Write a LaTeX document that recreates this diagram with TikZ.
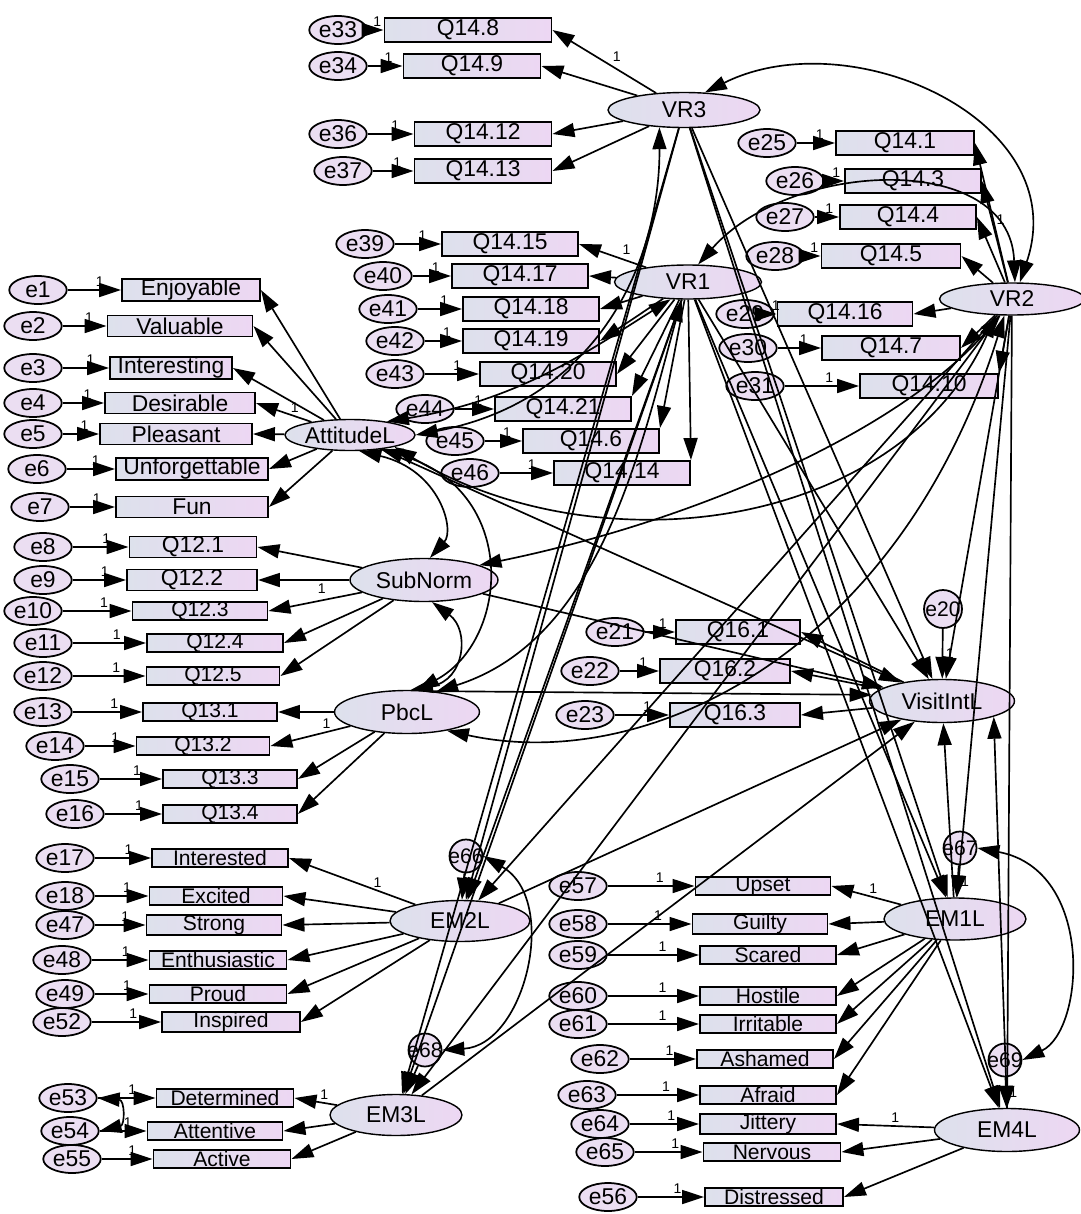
\documentclass[tikz,border=0pt]{standalone}
\usepackage{fontspec}
\setmainfont{Liberation Sans}
\usetikzlibrary{arrows.meta,shapes.geometric}

\definecolor{boxL}{RGB}{221,225,236}
\definecolor{boxR}{RGB}{237,215,243}
\definecolor{errfill}{RGB}{235,222,242}

\tikzset{
  obs/.style={draw, line width=1.1pt, left color=boxL, right color=boxR, minimum width=2.72cm,
    minimum height=0.46cm, inner sep=0pt},
  lat/.style={ellipse, draw, line width=0.8pt, left color=boxL, right color=boxR, inner sep=0pt},
  err/.style={ellipse, draw, line width=1pt, fill=errfill, minimum width=1.15cm,
    minimum height=0.56cm, inner sep=0pt},
  res/.style={circle, draw, line width=1pt, fill=errfill, minimum size=0.66cm, inner sep=0pt,
    label={[font=\fontsize{12}{13}\selectfont]center:#1}},
  reg/.style={-{Triangle[length=4.4mm,width=2.8mm]}, line width=0.95pt},
  cov/.style={{Triangle[length=4.4mm,width=2.8mm]}-{Triangle[length=4.4mm,width=2.8mm]}, line width=0.95pt},
  one/.style={font=\fontsize{8}{9}\selectfont, inner sep=1.5pt}
}

\begin{document}
\begin{tikzpicture}[x=0.02cm, y=-0.02cm, font=\fontsize{13}{14}\selectfont]
\useasboundingbox (0,0) rectangle (1081,1214);

% latent variables
\node[lat, minimum width=3.04cm, minimum height=0.7cm] (VR3) at (684,110) {VR3};
\node[lat, minimum width=2.94cm, minimum height=0.68cm] (VR1) at (688,282) {VR1};
\node[lat, minimum width=2.9cm, minimum height=0.64cm] (VR2) at (1012,299) {VR2};
\node[lat, minimum width=2.6cm, minimum height=0.62cm] (Att) at (350,435) {AttitudeL};
\node[lat, minimum width=2.96cm, minimum height=0.86cm] (SubN) at (424,580) {SubNorm};
\node[lat, minimum width=2.9cm, minimum height=0.86cm] (Pbc) at (407,712) {PbcL};
\node[lat, minimum width=2.9cm, minimum height=0.86cm] (Visit) at (942,701) {VisitIntL};
\node[lat, minimum width=2.8cm, minimum height=0.82cm] (EM2) at (460,921) {EM2L};
\node[lat, minimum width=2.64cm, minimum height=0.82cm] (EM3) at (396,1115) {EM3L};
\node[lat, minimum width=2.84cm, minimum height=0.84cm] (EM1) at (955,919) {EM1L};
\node[lat, minimum width=2.9cm, minimum height=0.86cm] (EM4) at (1007,1130) {EM4L};

% disturbances
\node[res=e20, minimum size=0.76cm] (e20) at (943,609) {};
\node[res=e66] (e66) at (466,856) {};
\node[res=e68] (e68) at (425,1050) {};
\node[res=e67] (e67) at (960,848) {};
\node[res=e69] (e69) at (1005,1060) {};

% indicators with their error terms
\foreach \en/\ex/\qn/\qx/\y/\w/\t in {
    e33/338/q148/468/30/3.34/Q14.8, e34/338/q149/472/66/2.74/Q14.9,
    e36/338/q1412/483/134/2.74/Q14.12, e37/343/q1413/483/171/2.74/Q14.13,
    e39/365/q1415/510/244/2.72/Q14.15, e40/383/q1417/520/276/2.72/Q14.17,
    e41/388/q1418/531/309/2.72/Q14.18, e42/395/q1419/531/341/2.72/Q14.19,
    e43/395/q1420/548/374/2.72/Q14.20, e44/425/q1421/563/409/2.72/Q14.21,
    e45/455/q146/591/441/2.72/Q14.6, e46/470/q1414/622/473/2.72/Q14.14,
    e25/767/q141/905/143/2.76/Q14.1, e26/795/q143/913/181/2.72/Q14.3,
    e27/785/q144/908/217/2.72/Q14.4, e28/775/q145/891/256/2.78/Q14.5,
    e29/745/q1416/845/314/2.7/Q14.16, e30/748/q147/891/348/2.76/Q14.7,
    e31/755/q1410/929/386/2.76/Q14.10,
    e21/615/q161/738/632/2.48/Q16.1, e22/590/q162/725/671/2.6/Q16.2,
    e23/585/q163/735/715/2.6/Q16.3}{
  \node[err] (\en) at (\ex,\y) {\en};
  \node[obs, minimum width=\w cm, minimum height=0.48cm] (\qn) at (\qx,\y) {\t};
  \draw[reg] (\en) -- (\qn.west) node[one, pos=0.6, above] {1};
}
\foreach \en/\ex/\qn/\qx/\y/\w/\t in {
    e1/38/enj/191/290/2.76/Enjoyable, e2/33/val/180/326/2.9/Valuable,
    e3/33/int/171/368/2.44/Interesting, e4/33/des/180/403/3.0/Desirable,
    e5/33/ple/176/434/3.04/Pleasant, e6/37/unf/192/469/3.04/Unforgettable,
    e7/40/fun/192/507/3.04/Fun,
    e8/43/q121/193/547/2.54/Q12.1, e9/43/q122/192/580/2.6/Q12.2}{
  \node[err] (\en) at (\ex,\y) {\en};
  \node[obs, minimum width=\w cm, minimum height=0.42cm] (\qn) at (\qx,\y) {\t};
  \draw[reg] (\en) -- (\qn.west) node[one, pos=0.6, above] {1};
}
\foreach \en/\ex/\qn/\qx/\y/\w/\t in {
    e10/33/q123/200/611/2.7/Q12.3, e11/43/q124/215/643/2.72/Q12.4,
    e12/43/q125/213/676/2.66/Q12.5,
    e13/43/q131/210/712/2.68/Q13.1, e14/55/q132/203/746/2.66/Q13.2,
    e15/70/q133/230/779/2.68/Q13.3, e16/75/q134/230/814/2.68/Q13.4,
    e17/65/intd/220/858/2.72/Interested, e18/65/exc/216/896/2.66/Excited,
    e47/65/str/214/925/2.7/Strong, e48/62/ent/218/960/2.74/Enthusiastic,
    e49/65/pro/218/994/2.74/Proud, e52/62/ins/231/1022/2.76/Inspired,
    e53/68/det/225/1098/2.74/Determined, e54/70/atn/215/1131/2.7/Attentive,
    e55/72/act/222/1159/2.74/Active,
    e57/578/ups/763/886/2.7/Upset, e58/578/gui/760/924/2.7/Guilty,
    e59/578/sca/768/955/2.72/Scared, e60/578/hos/768/996/2.72/Hostile,
    e61/578/irr/768/1024/2.72/Irritable,
    e62/600/ash/765/1059/2.72/Ashamed, e63/587/afr/768/1095/2.72/Afraid,
    e64/600/jit/768/1124/2.72/Jittery, e65/605/ner/772/1152/2.74/Nervous,
    e56/608/dis/774/1197/2.76/Distressed}{
  \node[err] (\en) at (\ex,\y) {\en};
  \node[obs, minimum width=\w cm, minimum height=0.36cm, font=\fontsize{12}{13}\selectfont] (\qn) at (\qx,\y) {\t};
  \draw[reg] (\en) -- (\qn.west) node[one, pos=0.6, above] {1};
}

% factor loadings
\draw[reg] (VR3) -- (q148.east) node[one, pos=0.45, above right] {1};
\foreach \q in {q149,q1412,q1413} \draw[reg] (VR3) -- (\q.east);
\draw[reg] (VR1) -- (q1415.east) node[one, pos=0.4, above right] {1};
\foreach \q in {q1417,q1418,q1419,q1420} \draw[reg] (VR1) -- (\q.east);
\foreach \q in {q1421,q146,q1414} \draw[reg] (VR1) -- (\q.north east);
\draw[reg] (VR2) -- (q141.east) node[one, pos=0.45, right] {1};
\foreach \q in {q143,q144,q145,q1416,q147} \draw[reg] (VR2) -- (\q.east);
\draw[reg] (VR2) -- (q1410.north east);
\foreach \q in {enj,val,int,ple,unf,fun} \draw[reg] (Att) -- (\q.east);
\draw[reg] (Att) -- (des.east) node[one, pos=0.3, above] {1};
\draw[reg] (SubN) -- (q122.east) node[one, pos=0.3, below] {1};
\foreach \q in {q121,q123,q124,q125} \draw[reg] (SubN) -- (\q.east);
\draw[reg] (Pbc) -- (q132.east) node[one, pos=0.3, above] {1};
\foreach \q in {q131,q133,q134} \draw[reg] (Pbc) -- (\q.east);
\foreach \q in {q161,q162,q163} \draw[reg] (Visit) -- (\q.east);
\draw[reg] (EM2) -- (intd.east) node[one, pos=0.3, above] {1};
\foreach \q in {exc,str,ent,pro,ins} \draw[reg] (EM2) -- (\q.east);
\draw[reg] (EM3) -- (det.east) node[one, pos=0.3, above] {1};
\foreach \q in {atn,act} \draw[reg] (EM3) -- (\q.east);
\draw[reg] (EM1) -- (ups.east) node[one, pos=0.4, above] {1};
\foreach \q in {gui,sca,hos,irr,ash,afr} \draw[reg] (EM1) -- (\q.east);
\draw[reg] (EM4) -- (jit.east) node[one, pos=0.4, above] {1};
\foreach \q in {ner,dis} \draw[reg] (EM4) -- (\q.east);

% structural paths
\foreach \v in {VR1,VR2,VR3}
  \foreach \m in {EM1,EM2,EM3,EM4,Visit}
    \draw[reg] (\v) -- (\m);
\foreach \m in {Att,SubN,EM1,EM2,EM3} \draw[reg] (\m) -- (Visit);
\draw[reg] (Pbc.40) -- (Visit.175);
\draw[reg] (EM4.north) -- (Visit.south east);
\draw[reg] (e20) -- (Visit) node[one, midway, right] {1};
\draw[reg] (e66) -- (EM2) node[one, midway, right] {1};
\draw[reg] (e68) -- (EM3) node[one, midway, right] {1};
\draw[reg] (e67) -- (EM1) node[one, midway, right] {1};
\draw[reg] (e69) -- (EM4) node[one, midway, right] {1};

% covariances
\draw[cov] (VR3.40) .. controls (850,20) and (1075,120) .. (VR2.65);
\draw[cov] (VR1.60) .. controls (790,160) and (1010,150) .. (VR2.80);
\draw[cov] (VR3.215) .. controls (660,260) and (600,400) .. (Att.east);
\draw[cov] (Att.20) .. controls (520,400) and (590,350) .. (VR1.225);
\draw[cov] (Att.-15) .. controls (600,570) and (900,530) .. (VR2.225);
\draw[cov] (Att.-60) .. controls (440,470) and (455,530) .. (SubN.75);
\draw[cov] (Att.-25) .. controls (520,490) and (510,640) .. (Pbc.65);
\draw[cov] (SubN.-70) .. controls (470,630) and (465,680) .. (Pbc.80);
\draw[cov] (SubN.15) .. controls (700,520) and (900,430) .. (VR2.235);
\draw[cov] (Pbc.35) .. controls (600,640) and (640,450) .. (VR1.250);
\draw[cov] (Pbc.-25) .. controls (650,775) and (900,650) .. (VR2.245);
\draw[cov] (e66.east) .. controls (560,900) and (525,1045) .. (e68.east);
\draw[cov] (e67.east) .. controls (1095,870) and (1085,1030) .. (e69.east);
\draw[cov] (e53.east) .. controls (125,1100) and (125,1125) .. (e54.east);
\end{tikzpicture}
\end{document}
